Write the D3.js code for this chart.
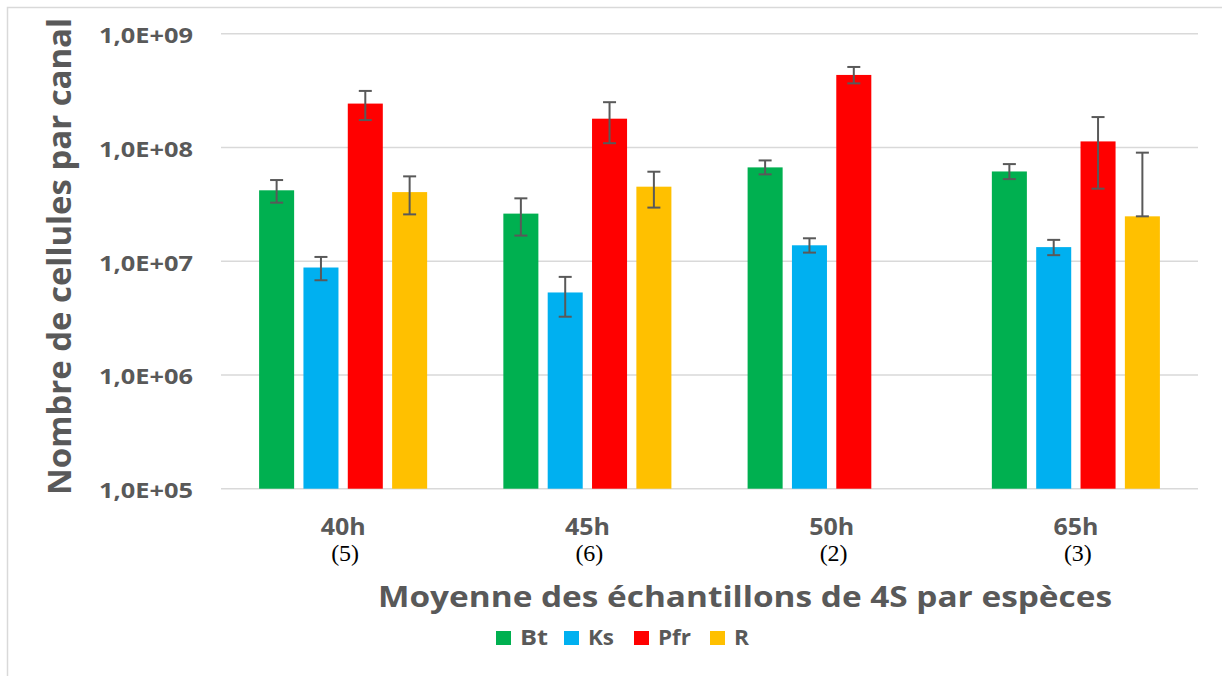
<!DOCTYPE html>
<html><head><meta charset="utf-8">
<script src="https://cdn.jsdelivr.net/npm/d3@7"></script>
<style>body{margin:0;background:#fff}svg{display:block}</style>
</head><body>
<svg id="c" width="1222" height="676"></svg>
<script>
const categories = ["40h","45h","50h","65h"];
const sampleCounts = ["(5)","(6)","(2)","(3)"];
const seriesNames = ["Bt","Ks","Pfr","R"];
const seriesColors = ["#00B050","#00B0F0","#FF0000","#FFC000"];
const Bt     = [4.2e7, 2.62e7, 6.68e7, 6.15e7];
const BtLow  = [3.27e7, 1.68e7, 5.8e7, 5.27e7];
const BtHigh = [5.17e7, 3.57e7, 7.69e7, 7.14e7];
const Ks     = [8.8e6, 5.31e6, 1.38e7, 1.33e7];
const KsLow  = [6.8e6, 3.25e6, 1.19e7, 1.13e7];
const KsHigh = [1.09e7, 7.28e6, 1.59e7, 1.54e7];
const Pfr     = [2.43e8, 1.79e8, 4.34e8, 1.13e8];
const PfrLow  = [1.74e8, 1.09e8, 3.66e8, 4.34e7];
const PfrHigh = [3.14e8, 2.5e8, 5.1e8, 1.85e8];
const R     = [4.05e7, 4.52e7, null, 2.48e7];
const RLow  = [2.58e7, 2.96e7, null, 2.48e7];
const RHigh = [5.57e7, 6.12e7, null, 9.0e7];
const tickValues = [1e5, 1e6, 1e7, 1e8, 1e9];
const tickLabels = ["1,0E+05","1,0E+06","1,0E+07","1,0E+08","1,0E+09"];
const yTitle = "Nombre de cellules par canal";
const xTitle = "Moyenne des échantillons de 4S par espèces";

const values = [Bt, Ks, Pfr, R], lows = [BtLow, KsLow, PfrLow, RLow], highs = [BtHigh, KsHigh, PfrHigh, RHigh];
const rows = [];
categories.forEach((c, i) => seriesNames.forEach((s, j) => {
  if (values[j][i] != null) rows.push({c, s, j, v: values[j][i], lo: lows[j][i], hi: highs[j][i]});
}));

const svg = d3.select("#c");
const font = "'Open Sans', Lato, sans-serif";
const gray = "#595959";

// chart border
svg.append("path").attr("d", "M7.5,676 V7.5 H1222").attr("fill", "none").attr("stroke", "#d9d9d9").attr("stroke-width", 1.5);

const y = d3.scaleLog().domain([1e5, 1e9]).range([488.7, 33.7]);
const x0 = d3.scaleBand().domain(categories).range([221, 1198]).paddingInner(0.312).paddingOuter(0.156);
const x1 = d3.scaleBand().domain(seriesNames).range([0, x0.bandwidth()]).paddingInner(0.21);
const color = d3.scaleOrdinal(seriesNames, seriesColors);

// gridlines
svg.append("g").selectAll("line").data(tickValues).join("line")
  .attr("x1", 221).attr("x2", 1198).attr("y1", d => y(d)).attr("y2", d => y(d))
  .attr("stroke", "#d9d9d9").attr("stroke-width", 1.5);

// y tick labels
svg.append("g").selectAll("text").data(tickValues).join("text")
  .attr("x", 193).attr("y", d => y(d) + 9.5).attr("text-anchor", "end")
  .attr("font-family", font).attr("font-weight", 700).attr("font-size", 22).attr("fill", gray)
  .attr("textLength", 94).attr("lengthAdjust", "spacingAndGlyphs")
  .text((d, i) => tickLabels[i]);

// bars
svg.append("g").selectAll("rect").data(rows).join("rect")
  .attr("x", d => x0(d.c) + x1(d.s)).attr("width", x1.bandwidth())
  .attr("y", d => y(d.v)).attr("height", d => y(1e5) - y(d.v))
  .attr("fill", d => color(d.s));

// error bars
const eg = svg.append("g").attr("stroke", gray).attr("stroke-width", 2);
rows.forEach(d => {
  const cx = x0(d.c) + x1(d.s) + x1.bandwidth() / 2;
  eg.append("line").attr("x1", cx).attr("x2", cx).attr("y1", y(d.hi)).attr("y2", y(d.lo));
  eg.append("line").attr("x1", cx - 6.5).attr("x2", cx + 6.5).attr("y1", y(d.hi)).attr("y2", y(d.hi));
  eg.append("line").attr("x1", cx - 6.5).attr("x2", cx + 6.5).attr("y1", y(d.lo)).attr("y2", y(d.lo));
});

// x labels
const xl = svg.append("g");
xl.selectAll("text.cat").data(categories).join("text").attr("class", "cat")
  .attr("x", d => x0(d) + x0.bandwidth() / 2).attr("y", 535).attr("text-anchor", "middle")
  .attr("font-family", font).attr("font-weight", 700).attr("font-size", 23).attr("fill", gray)
  .attr("textLength", 45).attr("lengthAdjust", "spacingAndGlyphs").text(d => d);
xl.selectAll("text.n").data(categories).join("text").attr("class", "n")
  .attr("x", d => x0(d) + x0.bandwidth() / 2 + 2).attr("y", 561).attr("text-anchor", "middle")
  .attr("font-family", "'Liberation Serif', 'Times New Roman', serif").attr("font-size", 24).attr("fill", "#000")
  .text((d, i) => sampleCounts[i]);

// axis titles
svg.append("text").attr("transform", "translate(71,256.5) rotate(-90)").attr("text-anchor", "middle")
  .attr("font-family", font).attr("font-weight", 700).attr("font-size", 33).attr("fill", gray)
  .attr("textLength", 477).attr("lengthAdjust", "spacingAndGlyphs").text(yTitle);
svg.append("text").attr("x", 745).attr("y", 607).attr("text-anchor", "middle")
  .attr("font-family", font).attr("font-weight", 700).attr("font-size", 28).attr("fill", gray)
  .attr("textLength", 734).attr("lengthAdjust", "spacingAndGlyphs").text(xTitle);

// legend
const legendX = [496, 564, 634, 710];
const legendW = [28, 26, 33, 15];
const lg = svg.append("g");
seriesNames.forEach((s, i) => {
  lg.append("rect").attr("x", legendX[i]).attr("y", 631).attr("width", 15).attr("height", 14).attr("fill", color(s));
  lg.append("text").attr("x", legendX[i] + 24).attr("y", 645)
    .attr("font-family", font).attr("font-weight", 700).attr("font-size", 21).attr("fill", gray)
    .attr("textLength", legendW[i]).attr("lengthAdjust", "spacingAndGlyphs").text(s);
});
</script>
</body></html>
